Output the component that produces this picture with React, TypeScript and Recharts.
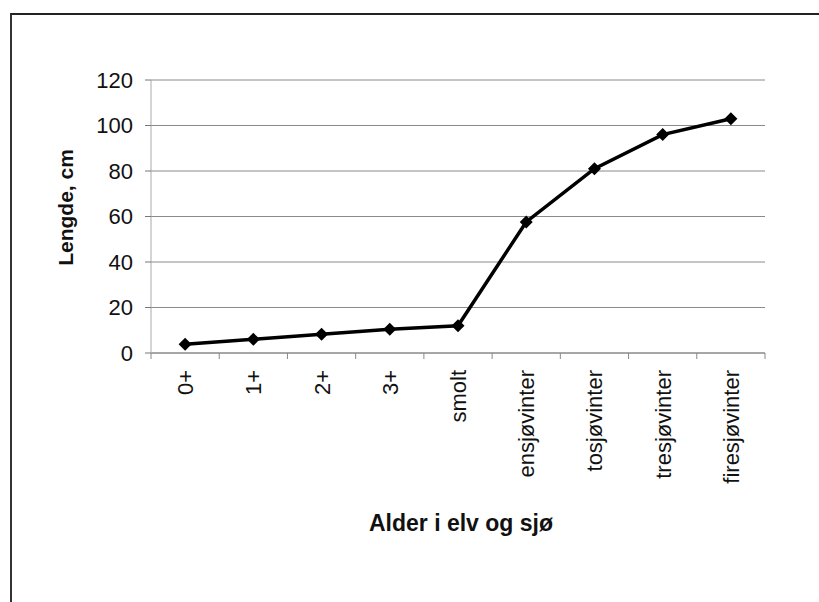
import React from 'react';
import { LineChart, Line, XAxis, YAxis, CartesianGrid } from 'recharts';

const categories = ['0+', '1+', '2+', '3+', 'smolt', 'ensjøvinter', 'tosjøvinter', 'tresjøvinter', 'firesjøvinter'];
const lengths = [3.8, 6, 8.2, 10.4, 12, 57.6, 81, 96, 103];
const yTicks = [0, 20, 40, 60, 80, 100, 120];

const W = 819;
const H = 602;
const X_AXIS_H = 30;
const M = { top: 80, right: 54, bottom: 249 - X_AXIS_H, left: 0 };
const Y_AXIS_W = 151;
const PLOT_W = W - M.left - M.right - Y_AXIS_W;
const HALF_BAND = PLOT_W / categories.length / 2;

const FONT = '"Liberation Sans", Arial, sans-serif';

const data = categories.map((name, i) => ({ x: i, name, lengde: lengths[i] }));

function Diamond(props: any) {
  const { cx, cy } = props;
  if (cx == null || cy == null) return null;
  const r = 6.5;
  return <path d={`M${cx},${cy - r} L${cx + r},${cy} L${cx},${cy + r} L${cx - r},${cy} Z`} fill="#000" />;
}

// category label, rotated, plus tick marks on the band edges
function CategoryTick(props: any) {
  const { x, y, payload, index } = props;
  const axisY = y - 8;
  const last = index === categories.length - 1;
  return (
    <g>
      <line x1={x - HALF_BAND} x2={x - HALF_BAND} y1={axisY} y2={axisY + 6} stroke="#888" />
      {last && <line x1={x + HALF_BAND} x2={x + HALF_BAND} y1={axisY} y2={axisY + 6} stroke="#888" />}
      <g transform={`translate(${x + 8},${axisY + 17}) rotate(-90)`}>
        <text textAnchor="end" fontSize={22} fontFamily={FONT} fill="#111">
          {categories[payload.value]}
        </text>
      </g>
    </g>
  );
}

function YTitle(props: any) {
  const { viewBox } = props;
  const cy = viewBox.y + viewBox.height / 2 - 9;
  return (
    <text
      transform={`translate(73,${cy}) rotate(-90)`}
      textAnchor="middle"
      fontSize={21}
      fontWeight="bold"
      fontFamily={FONT}
      fill="#111"
    >
      Lengde, cm
    </text>
  );
}

function XTitle(props: any) {
  const { viewBox } = props;
  return (
    <text
      x={viewBox.x + viewBox.width / 2 + 3}
      y={531}
      textAnchor="middle"
      fontSize={23}
      fontWeight="bold"
      fontFamily={FONT}
      fill="#111"
    >
      Alder i elv og sjø
    </text>
  );
}

export default function App() {
  return (
    <div style={{ position: 'fixed', left: 0, top: 0, width: W, height: H, background: '#fff' }}>
      <div
        style={{
          position: 'absolute',
          left: 10,
          top: 13,
          width: W - 10,
          height: H - 13,
          borderTop: '2px solid #222',
          borderLeft: '2px solid #333',
          boxSizing: 'border-box',
        }}
      />
      <div style={{ position: 'absolute', left: 0, top: 0 }}>
        <LineChart width={W} height={H} data={data} margin={M}>
          <CartesianGrid horizontal vertical={false} stroke="#8a8a8a" />
          <XAxis
            dataKey="x"
            type="number"
            height={X_AXIS_H}
            domain={[-0.5, categories.length - 0.5]}
            ticks={categories.map((_, i) => i)}
            interval={0}
            tickLine={false}
            axisLine={{ stroke: '#888' }}
            tick={<CategoryTick />}
            label={<XTitle />}
          />
          <YAxis
            width={Y_AXIS_W}
            domain={[0, 120]}
            ticks={yTicks}
            tickSize={6}
            tickMargin={12}
            axisLine={{ stroke: '#aaa' }}
            tickLine={{ stroke: '#777' }}
            tick={{ fontSize: 22, fontFamily: FONT, fill: '#111' }}
            label={<YTitle />}
          />
          <Line
            type="linear"
            dataKey="lengde"
            stroke="#000"
            strokeWidth={3.5}
            dot={<Diamond />}
            activeDot={false}
            isAnimationActive={false}
          />
        </LineChart>
      </div>
    </div>
  );
}
